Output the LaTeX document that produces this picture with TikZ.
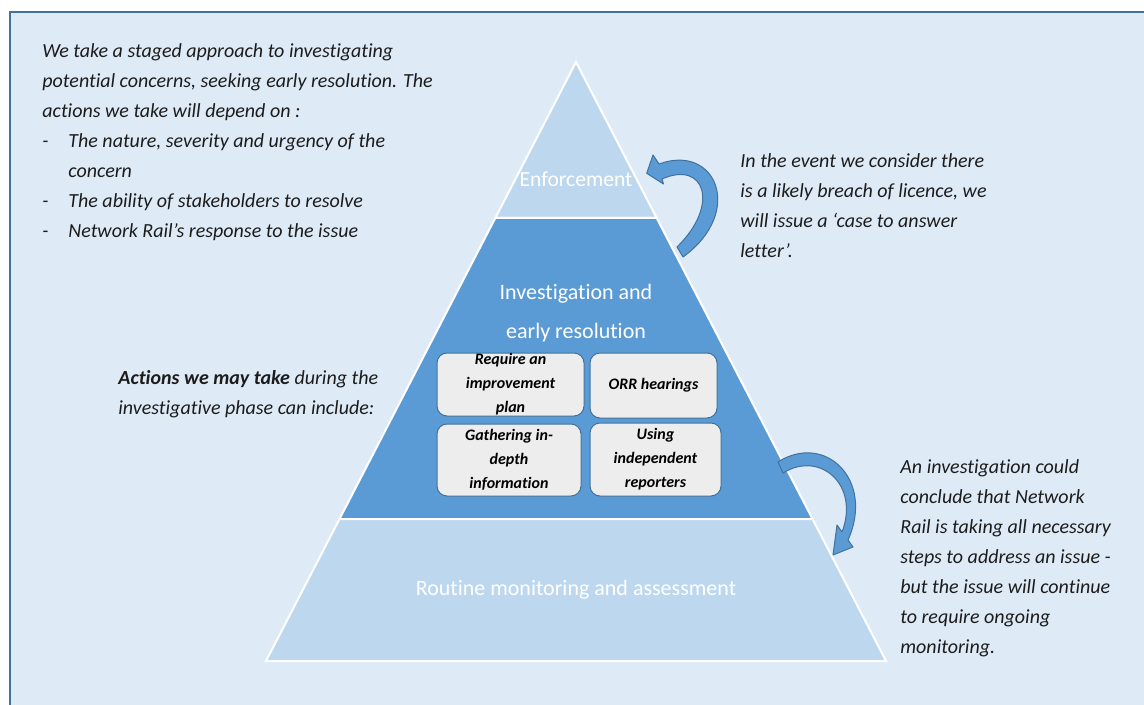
\documentclass[tikz,border=0pt]{standalone}
\usepackage{fontspec}
\setmainfont{Carlito}[Ligatures={NoCommon}]
\definecolor{pagefill}{RGB}{222,235,247}
\definecolor{frameblue}{RGB}{65,113,156}
\definecolor{levellight}{RGB}{189,215,238}
\definecolor{levelmid}{RGB}{91,155,213}
\definecolor{boxgrey}{RGB}{237,237,237}
\definecolor{textdark}{RGB}{28,28,28}

\tikzset{
  level/.style={draw=white, line width=1pt, line join=miter},
  leveltext/.style={text=white, align=center, inner sep=0pt},
  note/.style={anchor=north west, inner sep=0pt, align=left, text=textdark,
    font=\fontsize{10}{15}\selectfont\itshape},
  actionbox/.style={draw=frameblue, fill=boxgrey, rounded corners=5pt, line width=0.5pt,
    align=center, inner sep=0pt, text=black, font=\fontsize{8}{12}\selectfont\bfseries\itshape},
  bentarrow/.style={draw=frameblue, fill=levelmid, line width=0.5pt, line join=round}
}

\begin{document}
\begin{tikzpicture}[x=0.5pt, y=-0.5pt]

    % page
    \useasboundingbox (0,0) rectangle (1144,705);
    \clip (0,0) rectangle (1144,705);
    \fill[pagefill] (10,12) rectangle (1170,720);
    \draw[frameblue, line width=1.2pt] (10,720) -- (10,12) -- (1170,12);

    % pyramid corners
    \coordinate (apex) at (576,62);
    \coordinate (enfL) at (495.3,218);
    \coordinate (enfR) at (656.7,218);
    \coordinate (invL) at (339.5,519);
    \coordinate (invR) at (812.5,519);
    \coordinate (botL) at (266,661);
    \coordinate (botR) at (886,661);

    % pyramid levels
    \filldraw[level, fill=levellight] (apex) -- (enfR) -- (enfL) -- cycle;
    \filldraw[level, fill=levelmid] (enfL) -- (enfR) -- (invR) -- (invL) -- cycle;
    \filldraw[level, fill=levellight] (invL) -- (invR) -- (botR) -- (botL) -- cycle;

    \node[leveltext, font=\fontsize{10.8}{19}\selectfont] (enforce) at (576,179) {Enforcement};
    \node[leveltext, font=\fontsize{11}{19.5}\selectfont] (invest) at (576,313) {Investigation and\\early resolution};
    \node[leveltext, font=\fontsize{11}{19}\selectfont] (routine) at (576,590) {Routine monitoring and assessment};

    % actions inside the middle level
    \node[actionbox, minimum width=73.5pt, minimum height=31.5pt] (plan) at (510.5,384.5) {Require an\\improvement\\plan};
    \node[actionbox, minimum width=63.5pt, minimum height=32.5pt] (hearing) at (653.5,385.5) {ORR hearings};
    \node[actionbox, minimum width=72pt, minimum height=36pt] (gather) at (509,460) {Gathering in-\\depth\\information};
    \node[actionbox, minimum width=65.5pt, minimum height=36.5pt] (report) at (655.5,459.5) {Using\\independent\\reporters};

    % curved arrows
    \filldraw[bentarrow] (646.7,173.3) -- (653,155) -- (659,164)
        .. controls (716,143) and (745,212) .. (683,257) -- (677,247)
        .. controls (720,205) and (705,160) .. (662,179) -- (663.5,184) -- cycle;
    \filldraw[bentarrow] (778,462)
        .. controls (825,432) and (875,480) .. (848,540) -- (853,547) -- (833,555)
        -- (837,525) -- (842,532)
        .. controls (860,485) and (820,450) .. (783,473) -- cycle;

    % notes
    \node[note] (intro) at (42,36) {%
      \begin{tabular}{@{}p{13pt}@{}l@{}}
      \multicolumn{2}{@{}l@{}}{We take a staged approach to investigating}\\
      \multicolumn{2}{@{}l@{}}{potential concerns, seeking early resolution. The}\\
      \multicolumn{2}{@{}l@{}}{actions we take will depend on :}\\
      - & The nature, severity and urgency of the\\
        & concern\\
      - & The ability of stakeholders to resolve\\
      - & Network Rail’s response to the issue
      \end{tabular}};
    \node[note] (breach) at (740,153) {In the event we consider there\\is a likely breach of licence, we\\will issue a ‘case to answer\\letter’.};
    \node[note] (actions) at (118,370) {\textbf{Actions we may take} during the\\investigative phase can include:};
    \node[note] (conclude) at (900,459) {An investigation could\\conclude that Network\\Rail is taking all necessary\\steps to address an issue -\\but the issue will continue\\to require ongoing\\monitoring.};

\end{tikzpicture}
\end{document}
